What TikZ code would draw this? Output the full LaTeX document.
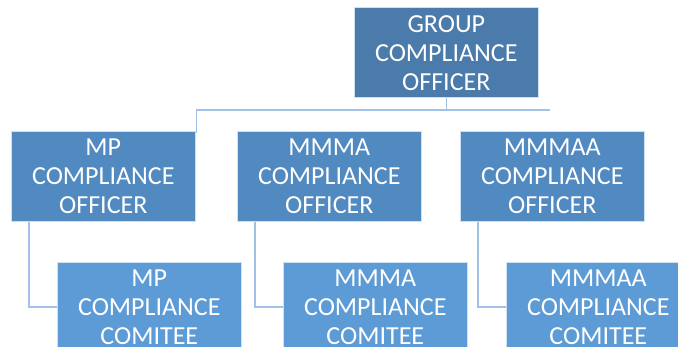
\documentclass[tikz,border=0pt]{standalone}
\usepackage{fontspec}
\setmainfont{Carlito}
\usetikzlibrary{positioning}
\definecolor{topblue}{HTML}{4A7BAA}
\definecolor{midblue}{HTML}{5189C1}
\definecolor{lowblue}{HTML}{5C9BD5}
\definecolor{linkblue}{HTML}{A3C1E6}

\begin{document}
\begin{tikzpicture}[
    x=1pt, y=-1pt,
    node distance = 40pt and 46pt,
    box/.style = {rectangle, draw=white!70!lowblue, line width=0.6pt,
        minimum width=184pt, minimum height=90pt, inner sep=0pt,
        align=center, text=white,
        font=\fontsize{26}{29}\selectfont},
    head/.style = {box, fill=topblue},
    officer/.style = {box, fill=midblue},
    comitee/.style = {box, fill=lowblue},
    link/.style = {linkblue, line width=1.5pt}
    ]
    \useasboundingbox (0,0) rectangle (678,347);
    %nodes
    \node[head, anchor=north west] (group) at (354,7.5)
        {GROUP\\COMPLIANCE\\OFFICER};

    \node[officer, anchor=north west] (mpoff) at (11,131)
        {MP\\COMPLIANCE\\OFFICER};
    \node[officer, anchor=north west] (mmmaoff) at (237,131)
        {MMMA\\COMPLIANCE\\OFFICER};
    \node[officer, anchor=north west] (mmmaaoff) at (460,131)
        {MMMAA\\COMPLIANCE\\OFFICER};

    \node[comitee, below=of mpoff.south west, anchor=north west,
        xshift=46pt] (mpcom) {MP\\COMPLIANCE\\COMITEE};
    \node[comitee, below=of mmmaoff.south west, anchor=north west,
        xshift=46pt] (mmmacom) {MMMA\\COMPLIANCE\\COMITEE};
    \node[comitee, below=of mmmaaoff.south west, anchor=north west,
        xshift=46pt] (mmmaacom) {MMMAA\\COMPLIANCE\\COMITEE};

    \coordinate (bus) at ([yshift=-12pt]group.south);
    \coordinate (busend) at (550,108.5);

    % edges
    \draw[link] (group.south) -- (bus)
        -| ([xshift=1pt,yshift=-2pt]mpoff.north east);
    \draw[link] (bus) -- (bus -| busend);
    \draw[link] ([xshift=18pt]mpoff.south west) |- (mpcom.west);
    \draw[link] ([xshift=18pt]mmmaoff.south west) |- (mmmacom.west);
    \draw[link] ([xshift=18pt]mmmaaoff.south west) |- (mmmaacom.west);
\end{tikzpicture}
\end{document}
